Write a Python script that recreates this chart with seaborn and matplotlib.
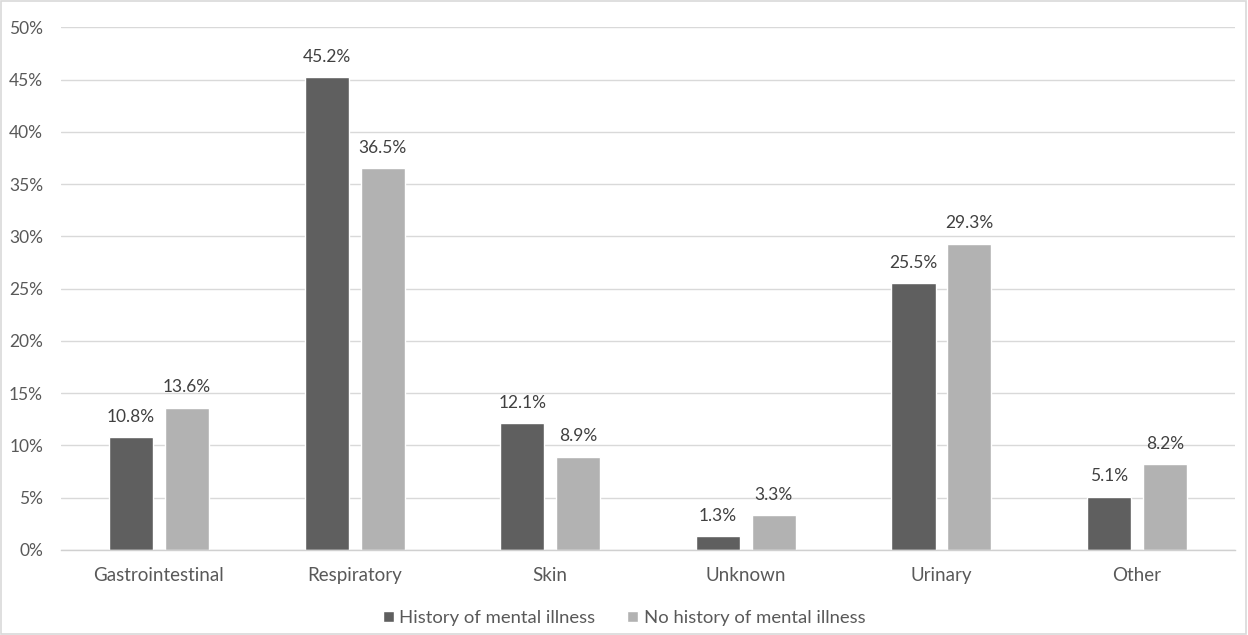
import matplotlib
matplotlib.use("Agg")
import matplotlib.pyplot as plt
import seaborn as sns
import pandas as pd
from matplotlib.ticker import PercentFormatter, MultipleLocator
from matplotlib.patches import Rectangle

categories = ["Gastrointestinal", "Respiratory", "Skin", "Unknown", "Urinary", "Other"]
series_names = ["History of mental illness", "No history of mental illness"]
history = [10.8, 45.2, 12.1, 1.3, 25.5, 5.1]
no_history = [13.6, 36.5, 8.9, 3.3, 29.3, 8.2]

df = pd.DataFrame({
    "category": categories * 2,
    "group": [series_names[0]] * len(categories) + [series_names[1]] * len(categories),
    "value": history + no_history,
})

sns.set_theme(style="white")
plt.rcParams["font.family"] = ["Lato", "DejaVu Sans"]

fig = plt.figure(figsize=(12.48, 6.35), dpi=100)
ax = fig.add_axes([0.049, 0.134, 0.9405, 0.823])

palette = {series_names[0]: "#5f5f5f", series_names[1]: "#b2b2b2"}
sns.barplot(data=df, x="category", y="value", hue="group", order=categories,
            hue_order=series_names, palette=palette, width=0.572, gap=0.213,
            saturation=1, ax=ax, legend=True, errorbar=None)

for cont in ax.containers:
    ax.bar_label(cont, labels=[f"{v:.1f}%" for v in cont.datavalues],
                 padding=9, fontsize=12.5, color="#404040")

ax.set_ylim(0, 50)
ax.set_xlim(-0.5, 5.5)
ax.yaxis.set_major_locator(MultipleLocator(5))
ax.yaxis.set_major_formatter(PercentFormatter(decimals=0))
ax.grid(axis="y", color="#d9d9d9", linewidth=1)
ax.set_axisbelow(True)
for s in ["top", "right", "left"]:
    ax.spines[s].set_visible(False)
ax.spines["bottom"].set_color("#d0d0d0")
ax.spines["bottom"].set_linewidth(1)
ax.tick_params(axis="y", length=0, pad=13, labelsize=12.5, labelcolor="#595959")
ax.tick_params(axis="x", length=0, pad=12, labelsize=13.5, labelcolor="#595959")
ax.set_xlabel("")
ax.set_ylabel("")

leg = ax.legend(loc="lower center", bbox_to_anchor=(0.5, -0.012), bbox_transform=fig.transFigure,
                ncol=2, frameon=False, fontsize=13.3, handlelength=0.6, handleheight=0.6,
                handletextpad=0.3, columnspacing=1.7, labelcolor="#595959")

fig.patches.append(Rectangle((0.001, 0.002), 0.997, 0.996, transform=fig.transFigure,
                             fill=False, edgecolor="#d9d9d9", linewidth=1.2))

fig.savefig("out.png", dpi=100)
